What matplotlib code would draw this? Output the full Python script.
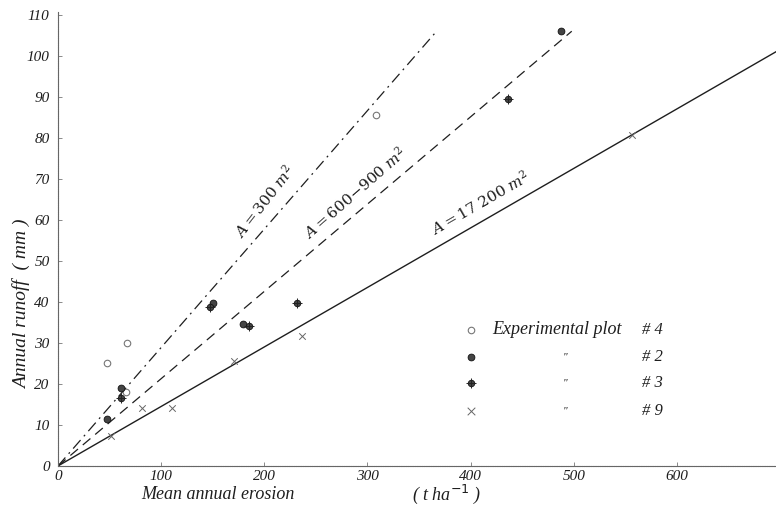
import numpy as np
import matplotlib.pyplot as plt

# data
plot4_x = [48, 67, 66, 308]
plot4_y = [25, 30, 18, 85.5]
plot2_x = [48, 61, 150.5, 179, 488]
plot2_y = [11.5, 19, 39.8, 34.6, 106]
plot3_x = [61.5, 147, 185.5, 232, 436]
plot3_y = [16.6, 38.8, 34.1, 39.8, 89.5]
plot9_x = [51, 81, 111, 171, 237, 556]
plot9_y = [7.3, 14.1, 14.1, 25.6, 31.7, 80.7]

# fitted lines: end points (x, y)
line_300 = (367, 106)
line_600 = (498, 106)
line_17200 = (696, 101)

xticks = [0, 100, 200, 300, 400, 500, 600]
yticks = [0, 10, 20, 30, 40, 50, 60, 70, 80, 90, 100, 110]

ink = '#1e1e1e'
font = dict(family='Liberation Serif', style='italic', color=ink)

fig = plt.figure(figsize=(7.76, 5.07), dpi=100)
ax = fig.add_axes([0.0747, 0.0809, 0.9253, 0.8955])
ax.set_xlim(0, 696)
ax.set_ylim(0, 110.7)

ax.plot([0, line_300[0]], [0, line_300[1]], color=ink, lw=0.9, linestyle=(0, (9, 4, 1.5, 4)))
ax.plot([0, line_600[0]], [0, line_600[1]], color=ink, lw=0.9, linestyle=(0, (8, 5)))
ax.plot([0, line_17200[0]], [0, line_17200[1]], color=ink, lw=1.0)

ax.scatter(plot4_x, plot4_y, s=22, facecolors='white', edgecolors='#777777', linewidths=0.8, zorder=3)
ax.scatter(plot2_x, plot2_y, s=24, color='#444444', edgecolors='#111111', linewidths=0.6, zorder=3)
ax.scatter(plot3_x, plot3_y, s=22, color='#444444', edgecolors='#111111', linewidths=0.6, zorder=3)
ax.scatter(plot3_x, plot3_y, s=60, marker='+', color='#222222', linewidths=0.7, zorder=4)
ax.scatter(plot9_x, plot9_y, s=22, marker='x', color='#666666', linewidths=0.7, zorder=3)

# line labels, rotated along the lines
ax.text(200, 64.5, r'$A = 300\ m^2$', rotation=52, ha='center', va='center', fontsize=11, **font,
        math_fontfamily='dejavuserif')
ax.text(288, 66.5, r'$A = 600\!-\!900\ m^2$', rotation=41, ha='center', va='center', fontsize=11, **font,
        math_fontfamily='dejavuserif')
ax.text(409, 64.2, r'$A = 17\ 200\ m^2$', rotation=30, ha='center', va='center', fontsize=11, **font,
        math_fontfamily='dejavuserif')

# hand-drawn legend
leg_x = 400
leg_y = [33.2, 26.6, 20.2, 13.4]
ax.scatter([leg_x], [leg_y[0]], s=22, facecolors='white', edgecolors='#777777', linewidths=0.8)
ax.scatter([leg_x], [leg_y[1]], s=24, color='#444444', edgecolors='#111111', linewidths=0.6)
ax.scatter([leg_x], [leg_y[2]], s=22, color='#444444', edgecolors='#111111', linewidths=0.6)
ax.scatter([leg_x], [leg_y[2]], s=60, marker='+', color='#222222', linewidths=0.7)
ax.scatter([leg_x], [leg_y[3]], s=30, marker='x', color='#666666', linewidths=0.7)
ax.text(421, leg_y[0], 'Experimental plot', va='center', fontsize=13, **font)
for yy, num in zip(leg_y, ['4', '2', '3', '9']):
    ax.text(566, yy, '# ' + num, va='center', fontsize=12, **font)
for yy in leg_y[1:]:
    ax.text(489, yy, '"', va='center', fontsize=8, **font)

ax.set_xticks(xticks)
ax.set_yticks(yticks)
ax.set_xticklabels([str(t) for t in xticks], fontsize=11, **font)
ax.set_yticklabels([str(t) for t in yticks], fontsize=11, **font)
ax.tick_params(direction='in', length=3, width=0.6, colors='#777777', labelcolor=ink)
ax.tick_params(axis='x', pad=3)
ax.tick_params(axis='y', pad=6)

for side in ['top', 'right']:
    ax.spines[side].set_visible(False)
for side in ['left', 'bottom']:
    ax.spines[side].set_color('#666666')
    ax.spines[side].set_linewidth(0.8)
    ax.spines[side].set_linestyle((0, (1, 0.6)))

fig.text(0.028, 0.40, 'Annual runoff  ( mm )', rotation=90, ha='center', va='center', fontsize=14, **font)
fig.text(0.281, 0.024, 'Mean annual erosion', ha='center', va='center', fontsize=13, **font)
fig.text(0.575, 0.024, '( t ha$^{-1}$ )', ha='center', va='center', fontsize=13, **font)

fig.savefig('out.png', dpi=100)
